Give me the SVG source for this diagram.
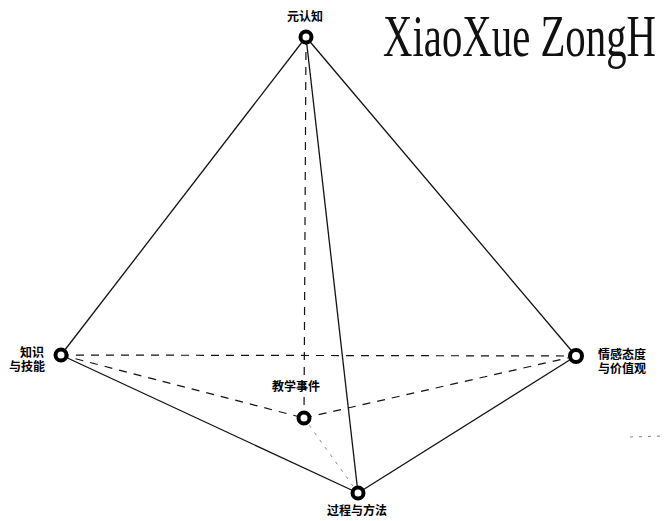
<svg xmlns="http://www.w3.org/2000/svg" width="664" height="521" viewBox="0 0 664 521">
<style>
.s{stroke:#111;stroke-width:1.3;fill:none}
.d{stroke:#111;stroke-width:1.2;fill:none;stroke-dasharray:8 7}
.f{stroke:#777;stroke-width:0.9;fill:none;stroke-dasharray:3 6}
.n{fill:#fff;stroke:#000;stroke-width:4}
.t{font-family:"Liberation Serif","Noto Sans CJK SC",serif;font-weight:bold;font-size:12px;fill:#000}
</style>
<rect width="664" height="521" fill="#fff"/>
<text transform="translate(383,56) scale(0.68,1)" x="0" y="0" font-family="Liberation Serif,serif" font-size="60" fill="#111">XiaoXue ZongH</text>
<g id="connectors">
<line class="s" x1="306" y1="37" x2="61" y2="355"/>
<line class="s" x1="306" y1="37" x2="576" y2="356"/>
<line class="s" x1="306" y1="37" x2="358" y2="493"/>
<line class="s" x1="61" y1="355" x2="358" y2="493"/>
<line class="s" x1="576" y1="356" x2="358" y2="493"/>
<line class="d" x1="61" y1="355" x2="576" y2="356"/>
<line class="d" x1="306" y1="37" x2="304" y2="418"/>
<line class="d" x1="61" y1="355" x2="304" y2="418"/>
<line class="d" x1="304" y1="418" x2="576" y2="356"/>
<line class="f" x1="304" y1="418" x2="358" y2="493"/>
<line class="f" x1="630" y1="437" x2="664" y2="436"/>
</g>
<g id="node-top"><circle class="n" cx="306" cy="37" r="5.5"/><text class="t" x="305" y="21" text-anchor="middle">元认知</text></g>
<g id="node-left"><circle class="n" cx="61" cy="355" r="5.5"/><text class="t" x="44" y="357" text-anchor="end">知识</text><text class="t" x="45" y="371" text-anchor="end">与技能</text></g>
<g id="node-right"><circle class="n" cx="576" cy="356" r="6"/><text class="t" x="598" y="359">情感态度</text><text class="t" x="598" y="373">与价值观</text></g>
<g id="node-center"><circle class="n" cx="304" cy="418" r="5.5"/><text class="t" x="296" y="391" text-anchor="middle" font-size="13">教学事件</text></g>
<g id="node-bottom"><circle class="n" cx="358" cy="493" r="5.5"/><text class="t" x="357" y="515" text-anchor="middle" font-size="13">过程与方法</text></g>
</svg>
